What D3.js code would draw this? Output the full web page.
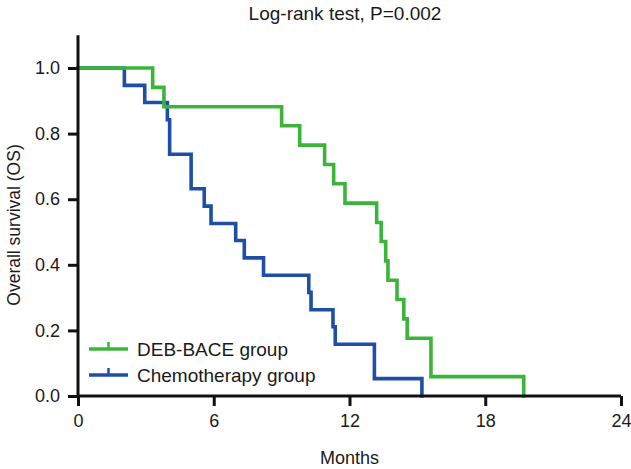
<!DOCTYPE html>
<html><head><meta charset="utf-8">
<script src="https://cdn.jsdelivr.net/npm/d3@7"></script>
<style>body{margin:0;background:#fff;} text{font-family:"Liberation Sans",Arial,Helvetica,sans-serif;fill:#1a1a1a;}</style>
</head><body>
<svg id="c" width="631" height="469"></svg>
<script>
const title = "Log-rank test, P=0.002";
const xLabel = "Months";
const yLabel = "Overall survival (OS)";
const xTicks = [0, 6, 12, 18, 24];
const yTicks = [0, 0.2, 0.4, 0.6, 0.8, 1.0];
const seriesNames = ["DEB-BACE group", "Chemotherapy group"];
const seriesColors = ["#3cb43c", "#1e4ea6"];
const debTimes = [0, 3.3, 3.8, 9.0, 9.8, 10.9, 11.3, 11.8, 13.2, 13.4, 13.6, 13.7, 14.1, 14.4, 14.55, 15.6, 19.7];
const debSurv  = [1.0, 0.941, 0.882, 0.824, 0.765, 0.706, 0.647, 0.588, 0.529, 0.471, 0.412, 0.353, 0.294, 0.235, 0.176, 0.059, 0];
const chemoTimes = [0, 2.05, 2.95, 3.95, 4.05, 5.0, 5.58, 5.88, 6.97, 7.35, 8.2, 10.2, 10.3, 11.27, 11.37, 13.1, 15.2];
const chemoSurv  = [1.0, 0.947, 0.895, 0.842, 0.737, 0.632, 0.579, 0.526, 0.474, 0.421, 0.368, 0.316, 0.263, 0.211, 0.158, 0.053, 0];

const svg = d3.select("#c");
const x = d3.scaleLinear().domain([0, 24]).range([78, 621]);
const y = d3.scaleLinear().domain([0, 1.1]).range([396, 35.2]);

const line = d3.line().x(d => x(d[0])).y(d => y(d[1])).curve(d3.curveStepAfter);
const series = [
  d3.zip(debTimes, debSurv),
  d3.zip(chemoTimes, chemoSurv)
];
[1, 0].forEach(i => {
  svg.append("path").attr("d", line(series[i])).attr("fill", "none")
    .attr("stroke", seriesColors[i]).attr("stroke-width", 3.6)
    .attr("stroke-linejoin", "miter").attr("stroke-linecap", "square");
});

const xAxis = d3.axisBottom(x).tickValues(xTicks).tickSize(10).tickPadding(8).tickFormat(d3.format("d"));
const gx = svg.append("g").attr("transform", `translate(0,${y(0)})`).call(xAxis);
const yAxis = d3.axisLeft(y).tickValues(yTicks).tickSize(10).tickPadding(8).tickFormat(d3.format(".1f"));
const gy = svg.append("g").attr("transform", `translate(${x(0)},0)`).call(yAxis);
[gx, gy].forEach(g => {
  g.select(".domain").attr("stroke", "#111").attr("stroke-width", 3);
  g.selectAll(".tick line").attr("stroke", "#111").attr("stroke-width", 3);
  g.selectAll(".tick text").style("font-size", "18px").attr("fill", "#1a1a1a");
});
gx.select(".domain").attr("d", `M${x(0)},0H${x(24)}`);
gy.select(".domain").attr("d", `M0,${y(0)+1.5}V${y(1.1)}`);

svg.append("text").attr("x", 345).attr("y", 20).attr("text-anchor", "middle").style("font-size", "19px").text(title);
svg.append("text").attr("x", x(12)).attr("y", 464).attr("text-anchor", "middle").style("font-size", "18px").text(xLabel);
svg.append("text").attr("transform", `translate(20,225) rotate(-90)`).attr("text-anchor", "middle").style("font-size", "17.5px").text(yLabel);

const legY = [349, 375];
seriesNames.forEach((n, i) => {
  const g = svg.append("g");
  g.append("line").attr("x1", 89).attr("x2", 128).attr("y1", legY[i]).attr("y2", legY[i])
    .attr("stroke", seriesColors[i]).attr("stroke-width", 3.6);
  g.append("line").attr("x1", 108.5).attr("x2", 108.5).attr("y1", legY[i]).attr("y2", legY[i] - 7)
    .attr("stroke", seriesColors[i]).attr("stroke-width", 2.5);
  g.append("text").attr("x", 137).attr("y", legY[i] + 7).style("font-size", "19px").text(n);
});
</script>
</body></html>
